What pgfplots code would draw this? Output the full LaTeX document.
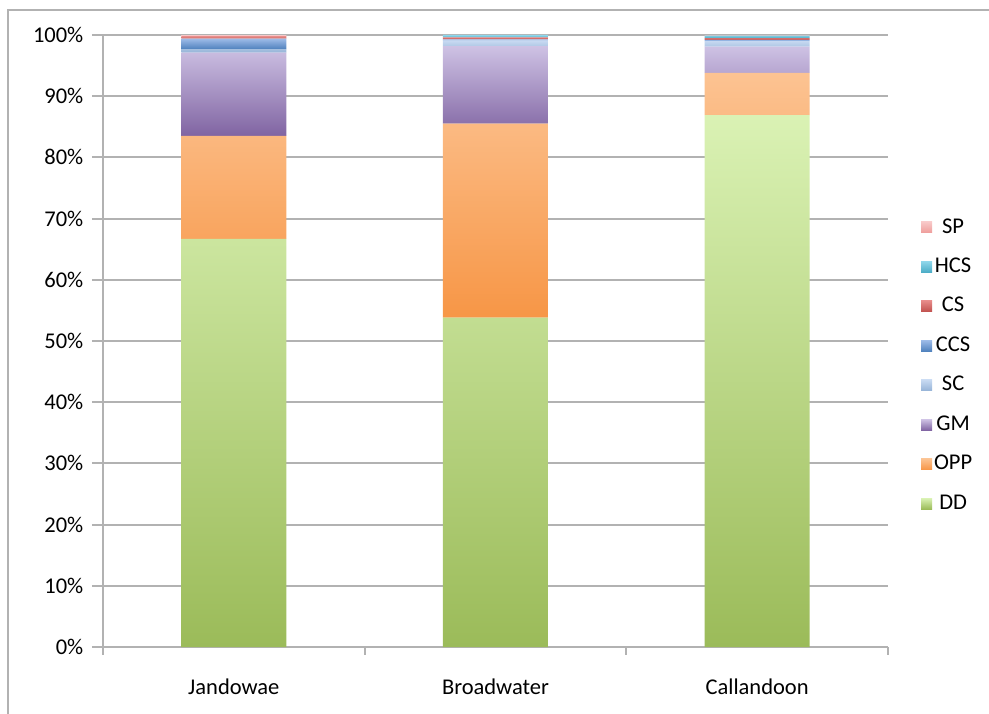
\documentclass[border=0pt]{standalone}
\usepackage{fontspec}
\setmainfont{Carlito}
\usepackage{pgfplots}
\pgfplotsset{compat=1.18}

% Segment colours: light top, saturated base
\definecolor{ddT}{HTML}{DAF2B4}\definecolor{ddB}{HTML}{9BBB59}
\definecolor{opT}{HTML}{FCC392}\definecolor{opB}{HTML}{F79646}
\definecolor{gmT}{HTML}{CEC2E4}\definecolor{gmB}{HTML}{8064A2}
\definecolor{scT}{HTML}{C8DAF2}\definecolor{scB}{HTML}{95B3D7}
\definecolor{ccT}{HTML}{9DBBE8}\definecolor{ccB}{HTML}{4F81BD}
\definecolor{csT}{HTML}{E68A88}\definecolor{csB}{HTML}{C0504D}
\definecolor{hcT}{HTML}{8FD6EA}\definecolor{hcB}{HTML}{4BACC6}
\definecolor{spT}{HTML}{F8C8C8}\definecolor{spB}{HTML}{EE9C9A}
\definecolor{gridgrey}{HTML}{B2B2B2}

\newcommand{\chartfont}{\fontsize{22.5pt}{27pt}\selectfont}

\begin{document}
\chartfont
\begin{tikzpicture}
\useasboundingbox (-103pt,-66pt) rectangle (886pt,647pt);
% outer chart frame
\draw[gridgrey, line width=2pt] (-95pt,-70pt) -- (-95pt,637pt) -- (890pt,637pt);
\begin{axis}[
  scale only axis,
  width=785pt, height=612pt,
  ybar stacked,
  bar width=105pt,
  xmin=-0.5, xmax=2.5,
  ymin=0, ymax=100,
  xtick={0,1,2},
  xticklabels={Jandowae,Broadwater,Callandoon},
  minor xtick={-0.5,0.5,1.5,2.5},
  major x tick style={draw=none},
  minor tick length=8pt,
  major tick length=11pt,
  tick align=outside,
  ytick={0,10,...,100},
  yticklabel={\pgfmathprintnumber{\tick}\%},
  /pgf/number format/assume math mode=true,
  ymajorgrids,
  grid style={gridgrey, line width=2pt},
  axis line style={gridgrey, line width=2pt},
  tick style={gridgrey, line width=2pt},
  axis x line*=bottom,
  axis y line*=left,
  xticklabel style={yshift=-13pt},
  yticklabel style={xshift=-1pt},
  every tick label/.append style={font=\chartfont},
  reverse legend,
  legend style={
    draw=none, fill=none,
    at={(1.038,0.46)}, anchor=west,
    font=\chartfont,
    row sep=17.5pt,
    /tikz/every even column/.append style={column sep=4pt},
  },
  legend image code/.code={
    \fill[#1] (0pt,-5.5pt) rectangle (11pt,5.5pt);
  },
  clip=false,
]
% DD
\addplot[draw=none, top color=ddT, bottom color=ddB] coordinates {(0,66.7) (1,53.8) (2,86.9)};
\addlegendentry{DD}
% OPP
\addplot[draw=none, top color=opT, bottom color=opB] coordinates {(0,16.8) (1,31.7) (2,6.9)};
\addlegendentry{OPP}
% GM
\addplot[draw=none, top color=gmT, bottom color=gmB] coordinates {(0,13.6) (1,12.7) (2,4.3)};
\addlegendentry{GM}
% SC
\addplot[draw=none, top color=scT, bottom color=scB] coordinates {(0,0.6) (1,0.9) (2,0.9)};
\addlegendentry{SC}
% CCS
\addplot[draw=none, top color=ccT, bottom color=ccB] coordinates {(0,1.7) (1,0.2) (2,0.2)};
\addlegendentry{CCS}
% CS
\addplot[draw=none, top color=csT, bottom color=csB] coordinates {(0,0.4) (1,0.3) (2,0.3)};
\addlegendentry{CS}
% HCS
\addplot[draw=none, top color=hcT, bottom color=hcB] coordinates {(0,0.0) (1,0.4) (2,0.4)};
\addlegendentry{HCS}
% SP
\addplot[draw=none, top color=spT, bottom color=spB] coordinates {(0,0.2) (1,0.0) (2,0.1)};
\addlegendentry{SP}
\end{axis}
\end{tikzpicture}
\end{document}
